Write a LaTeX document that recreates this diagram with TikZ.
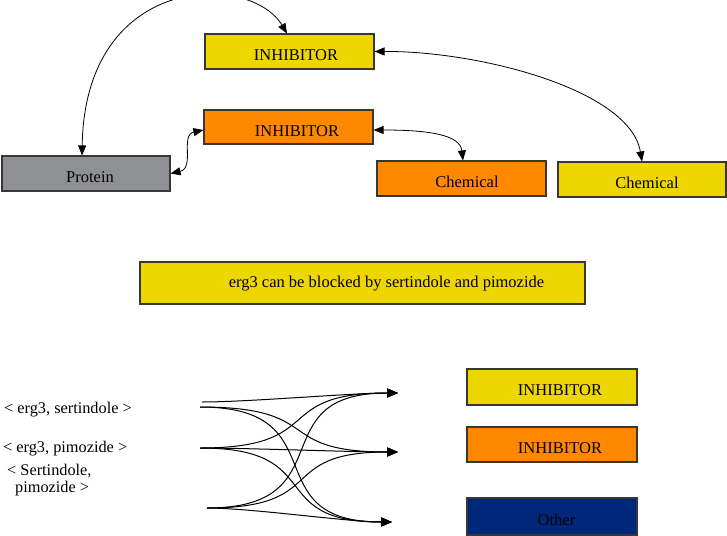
\documentclass[tikz,border=0pt]{standalone}
\usepackage{fontspec}
\setmainfont{Liberation Serif}
\usetikzlibrary{arrows.meta}
\definecolor{boxyellow}{RGB}{238,214,0}
\definecolor{boxorange}{RGB}{255,136,0}
\definecolor{boxgray}{RGB}{142,144,148}
\definecolor{boxnavy}{RGB}{0,40,122}
\definecolor{boxline}{RGB}{55,55,55}
\begin{document}
\begin{tikzpicture}[x=1pt,y=-1pt,
  box/.style={draw=boxline, line width=1.1pt, inner sep=0pt, minimum width=169pt, minimum height=35pt},
  lbl/.style={font=\fontsize{16.5}{19}\selectfont, anchor=base, inner sep=0pt},
  side/.style={font=\fontsize{16.3}{19}\selectfont, anchor=base west, inner sep=0pt},
  tiptop/.style={line width=0.8pt, {Triangle[length=10pt,width=8pt]}-{Triangle[length=10pt,width=8pt]}},
  flow/.style={line width=1pt, -{Triangle[length=11pt,width=9pt]}, out=0, in=180, looseness=1.6}]
\useasboundingbox (0,0) rectangle (727,535);
\fill[white] (0,0) rectangle (727,535);
% top boxes
\node[box, fill=boxyellow] (inh1) at (289.5,51.5) {};
\node[box, fill=boxorange, minimum height=34pt] (inh2) at (288.5,127) {};
\node[box, fill=boxgray, minimum width=168pt] (prot) at (86,173.5) {};
\node[box, fill=boxorange] (chemO) at (461.5,178.5) {};
\node[box, fill=boxyellow, minimum width=168pt] (chemY) at (642,179.5) {};
\node[lbl] (inh1t) at (296,60) {INHIBITOR};
\node[lbl] (inh2t) at (297,136) {INHIBITOR};
\node[lbl] (prott) at (90,182) {Protein};
\node[lbl] (chemOt) at (467,187) {Chemical};
\node[lbl] (chemYt) at (647,188) {Chemical};
% top connectors
\draw[tiptop] ([xshift=-4pt]prot.north) .. controls (85,-28) and (250,-28) .. ([xshift=-2.5pt]inh1.north);
\draw[tiptop] (inh1.east) .. controls (480,51) and (630,90) .. (chemY.north);
\draw[tiptop] ([yshift=-3pt]inh2.east) .. controls (430,130) and (460,135) .. ([xshift=1.5pt]chemO.north);
\draw[tiptop] (prot.east) .. controls (195,168) and (180,135) .. ([yshift=-3pt]inh2.west);
% statement
\node[box, fill=boxyellow, minimum width=445pt, minimum height=42pt] (erg) at (362.5,283) {};
\node[lbl] (ergt) at (386.5,287) {erg3 can be blocked by sertindole and pimozide};
% bottom boxes
\node[box, fill=boxyellow, minimum width=170pt, minimum height=36pt] (binh1) at (552,387) {};
\node[box, fill=boxorange, minimum width=170pt] (binh2) at (552,444.5) {};
\node[box, fill=boxnavy, minimum width=170pt, minimum height=37pt] (other) at (552,516.5) {};
\node[lbl] (binh1t) at (560,395) {INHIBITOR};
\node[lbl] (binh2t) at (560,453) {INHIBITOR};
\node[lbl] (othert) at (556.5,525) {Other};
% pair labels
\node[side] (p1) at (4,413) {< erg3, sertindole >};
\node[side] (p2) at (3,452) {< erg3, pimozide >};
\node[side] (p3a) at (7,475) {< Sertindole,};
\node[side] (p3b) at (15,492) {pimozide >};
% flow end points
\coordinate (s1a) at (202,402);
\coordinate (s1b) at (200,407);
\coordinate (s2) at (200,448);
\coordinate (s3) at (207,508);
\coordinate (t1) at (398,393);
\coordinate (t2) at (398,452);
\coordinate (t3) at (392,522);
\draw[flow, looseness=0.6] (s1a) to (t1);
\draw[flow] (s1b) to (t2);
\draw[flow] (s1b) to (t3);
\draw[flow] (s2) to (t1);
\draw[flow, looseness=0.6] (s2) to (t2);
\draw[flow] (s2) to (t3);
\draw[flow] (s3) to (t1);
\draw[flow] (s3) to (t2);
\draw[flow, looseness=0.6] (s3) to (t3);
\end{tikzpicture}
\end{document}
